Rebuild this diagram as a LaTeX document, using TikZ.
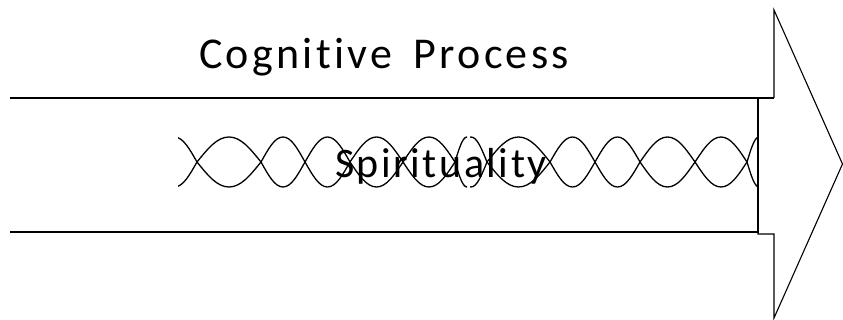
\documentclass[tikz,border=0pt]{standalone}
\usepackage{fontspec}
\newfontfamily\carl[LetterSpace=7.5,Ligatures=NoCommon]{Carlito}
\newfontfamily\carlB[LetterSpace=6,Ligatures=NoCommon]{Carlito}
\tikzset{
  shaftline/.style={line width=1.6pt, line join=miter},
  headline/.style={line width=1.1pt, line join=miter},
  helix/.style={line width=1.3pt, line cap=round},
  lbl/.style={inner sep=0pt, anchor=base, font=\carl\fontsize{44}{50}\selectfont},
}
\newcommand\mylens[2]{%
  \pgfmathsetmacro\qq{(#2-#1)/2}%
  \pgfmathsetmacro\xm{(#1+#2)/2}%
  \draw[helix] (#1,162) .. controls ({#1+0.334*\qq},{162-0.525*25}) and ({#1+0.624*\qq},137) .. (\xm,137)
     .. controls ({\xm+0.376*\qq},137) and ({\xm+0.666*\qq},{162-0.525*25}) .. (#2,162);
  \draw[helix] (#1,162) .. controls ({#1+0.334*\qq},{162+0.525*25}) and ({#1+0.624*\qq},187) .. (\xm,187)
     .. controls ({\xm+0.376*\qq},187) and ({\xm+0.666*\qq},{162+0.525*25}) .. (#2,162);
}
\begin{document}
\begin{tikzpicture}[x=1pt,y=-1pt]
\useasboundingbox (0,0) rectangle (843,320);
% helix strips
\begin{scope}
  \clip (178,100) rectangle (467,230);
  \mylens{152}{197}
  \mylens{197}{261}
  \mylens{261}{305}
  \mylens{305}{350}
  \mylens{350}{403}
  \mylens{403}{455}
  \mylens{455}{479}
\end{scope}
\begin{scope}
  \clip (470,100) rectangle (757.5,230);
  \mylens{455}{487}
  \mylens{487}{550}
  \mylens{550}{595}
  \mylens{595}{640}
  \mylens{640}{695}
  \mylens{695}{747}
  \mylens{747}{771}
\end{scope}
% shaft and arrow head
\draw[shaftline] (10,232) -- (758,232) -- (758,98);
\draw[shaftline] (10,98) -- (774,98);
\draw[headline] (774,98) -- (774,10) -- (842.5,164) -- (774,318) -- (774,234) -- (758,234) -- (758,232);
% labels
\node[lbl] (cog) at (384,69) {Cognitive\hspace{8pt} Process};
\node[lbl, font=\carlB\fontsize{42}{48}\selectfont] (spi) at (441,178) {Spirituality};
\end{tikzpicture}
\end{document}
